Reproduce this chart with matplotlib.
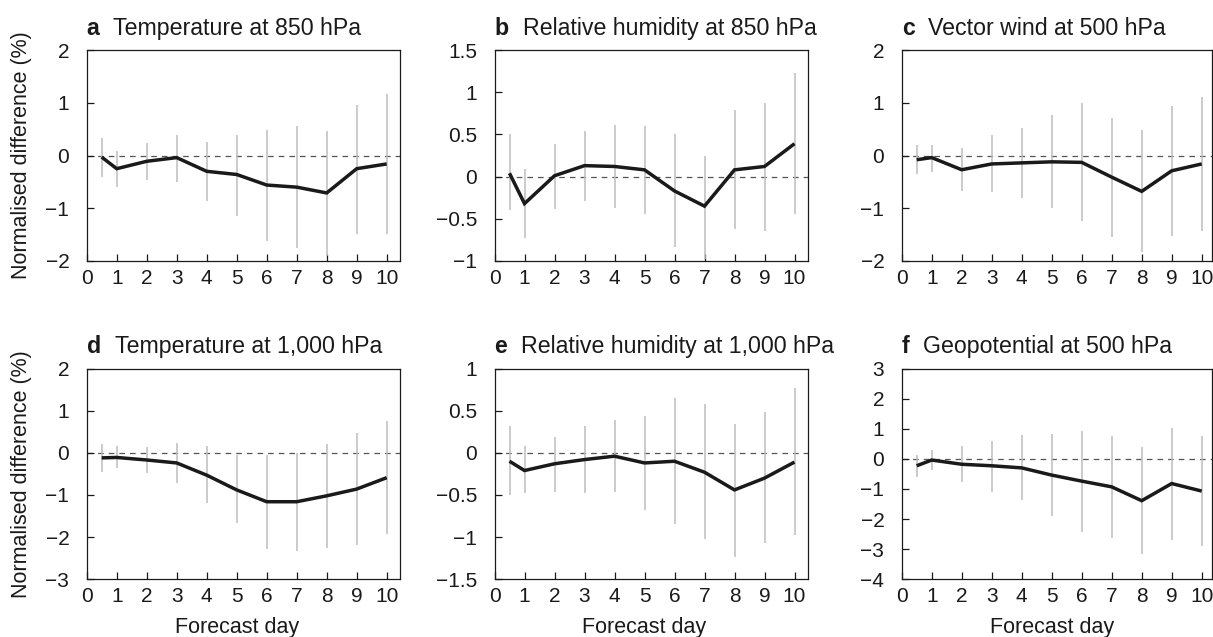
import matplotlib
matplotlib.use('Agg')
import matplotlib.pyplot as plt

plt.rcParams['font.family'] = ['Liberation Sans', 'DejaVu Sans']

# ---------------- data ----------------
days = [0.5, 1, 2, 3, 4, 5, 6, 7, 8, 9, 10]
xticks = [0, 1, 2, 3, 4, 5, 6, 7, 8, 9, 10]

# a: Temperature at 850 hPa
t850 = [-0.03, -0.25, -0.11, -0.04, -0.30, -0.36, -0.56, -0.60, -0.71, -0.25, -0.16]
t850_hi = [0.33, 0.08, 0.24, 0.39, 0.25, 0.39, 0.48, 0.55, 0.46, 0.95, 1.17]
t850_lo = [-0.40, -0.59, -0.46, -0.50, -0.87, -1.14, -1.62, -1.76, -1.90, -1.49, -1.49]

# b: Relative humidity at 850 hPa
rh850 = [0.04, -0.32, 0.01, 0.13, 0.12, 0.08, -0.17, -0.35, 0.08, 0.12, 0.39]
rh850_hi = [0.50, 0.09, 0.39, 0.54, 0.61, 0.60, 0.50, 0.25, 0.79, 0.87, 1.23]
rh850_lo = [-0.40, -0.73, -0.38, -0.29, -0.37, -0.44, -0.84, -0.98, -0.62, -0.64, -0.44]

# c: Vector wind at 500 hPa
vw500 = [-0.08, -0.04, -0.27, -0.16, -0.14, -0.12, -0.13, -0.41, -0.68, -0.29, -0.16]
vw500_hi = [0.19, 0.20, 0.15, 0.38, 0.52, 0.76, 0.99, 0.71, 0.48, 0.93, 1.10]
vw500_lo = [-0.36, -0.32, -0.67, -0.70, -0.81, -1.00, -1.25, -1.54, -1.82, -1.52, -1.43]

# d: Temperature at 1,000 hPa
t1000 = [-0.12, -0.11, -0.17, -0.24, -0.53, -0.88, -1.16, -1.16, -1.02, -0.86, -0.59]
t1000_hi = [0.21, 0.15, 0.14, 0.24, 0.16, -0.05, -0.05, -0.01, 0.21, 0.46, 0.75]
t1000_lo = [-0.45, -0.37, -0.49, -0.71, -1.18, -1.67, -2.27, -2.34, -2.25, -2.19, -1.93]

# e: Relative humidity at 1,000 hPa
rh1000 = [-0.10, -0.21, -0.13, -0.08, -0.04, -0.12, -0.10, -0.23, -0.44, -0.30, -0.11]
rh1000_hi = [0.32, 0.08, 0.19, 0.32, 0.39, 0.44, 0.65, 0.58, 0.34, 0.48, 0.77]
rh1000_lo = [-0.50, -0.48, -0.46, -0.48, -0.47, -0.68, -0.84, -1.02, -1.23, -1.07, -0.98]

# f: Geopotential at 500 hPa
z500 = [-0.23, -0.04, -0.18, -0.23, -0.30, -0.54, -0.74, -0.93, -1.39, -0.82, -1.07]
z500_hi = [0.12, 0.29, 0.43, 0.60, 0.78, 0.81, 0.93, 0.75, 0.40, 1.04, 0.76]
z500_lo = [-0.60, -0.38, -0.78, -1.09, -1.37, -1.89, -2.42, -2.62, -3.17, -2.70, -2.90]

letters = ['a', 'b', 'c', 'd', 'e', 'f']
titles = ['Temperature at 850 hPa', 'Relative humidity at 850 hPa',
          'Vector wind at 500 hPa', 'Temperature at 1,000 hPa',
          'Relative humidity at 1,000 hPa', 'Geopotential at 500 hPa']

yticks_a = [-2, -1, 0, 1, 2]
ylabels_a = ['\u22122', '\u22121', '0', '1', '2']
yticks_b = [-1, -0.5, 0, 0.5, 1, 1.5]
ylabels_b = ['\u22121', '\u22120.5', '0', '0.5', '1', '1.5']
yticks_c = [-2, -1, 0, 1, 2]
ylabels_c = ['\u22122', '\u22121', '0', '1', '2']
yticks_d = [-3, -2, -1, 0, 1, 2]
ylabels_d = ['\u22123', '\u22122', '\u22121', '0', '1', '2']
yticks_e = [-1.5, -1, -0.5, 0, 0.5, 1]
ylabels_e = ['\u22121.5', '\u22121', '\u22120.5', '0', '0.5', '1']
yticks_f = [-4, -3, -2, -1, 0, 1, 2, 3]
ylabels_f = ['\u22124', '\u22123', '\u22122', '\u22121', '0', '1', '2', '3']

series = [t850, rh850, vw500, t1000, rh1000, z500]
highs = [t850_hi, rh850_hi, vw500_hi, t1000_hi, rh1000_hi, z500_hi]
lows = [t850_lo, rh850_lo, vw500_lo, t1000_lo, rh1000_lo, z500_lo]
ytick_sets = [yticks_a, yticks_b, yticks_c, yticks_d, yticks_e, yticks_f]
ylabel_sets = [ylabels_a, ylabels_b, ylabels_c, ylabels_d, ylabels_e, ylabels_f]

# ---------------- layout ----------------
W, H = 1213, 637
fig = plt.figure(figsize=(W / 100, H / 100), dpi=100)

# pixel boxes (left, top, right, bottom)
boxes = [(86.7, 50, 400.2, 261), (494.5, 50, 808.0, 261), (901.7, 50, 1212.2, 261),
         (86.7, 368.5, 400.2, 579.3), (494.5, 368.5, 808.0, 579.3), (901.7, 368.5, 1212.2, 579.3)]

TICK_FS = 15
TITLE_FS = 16.7
LABEL_FS = 15.5
INK = '#1a1a1a'

axes = []
for i in range(6):
    l, t, r, b = boxes[i]
    ax = fig.add_axes([l / W, 1 - b / H, (r - l) / W, (b - t) / H])
    axes.append(ax)

    ax.axhline(0, color='#555555', lw=0.9, ls=(0, (4.5, 4.0)), zorder=1)
    ax.vlines(days, lows[i], highs[i], colors='#bdbdbd', linewidth=1.1, zorder=2)
    ax.plot(days, series[i], color=INK, lw=2.5, zorder=3,
            solid_joinstyle='miter', solid_capstyle='butt')

    ax.set_xlim(0, (r - l) / 30.0)
    yt = ytick_sets[i]
    ax.set_ylim(yt[0], yt[-1])
    ax.set_xticks(xticks)
    ax.set_xticklabels([str(v) for v in xticks])
    ax.set_yticks(yt)
    ax.set_yticklabels(ylabel_sets[i])

    for s in ax.spines.values():
        s.set_linewidth(0.9)
        s.set_color(INK)
    ax.tick_params(direction='in', length=5, width=0.9, colors=INK,
                   labelsize=TICK_FS, top=False, right=False)
    ax.tick_params(axis='x', pad=5.5)
    ax.tick_params(axis='y', pad=12.5)

    lt = ax.annotate(letters[i], xy=(0, 1), xycoords='axes fraction',
                     xytext=(0, 11), textcoords='offset points',
                     fontsize=TITLE_FS, fontweight='bold', color=INK,
                     ha='left', va='baseline')
    ax.annotate(titles[i], xy=(1, 0), xycoords=lt, xytext=(10, 0),
                textcoords='offset points', fontsize=TITLE_FS, color=INK,
                ha='left', va='bottom')

# y labels
for i in (0, 3):
    l, t, r, b = boxes[i]
    fig.text(22 / W, 1 - ((t + b) / 2) / H, 'Normalised difference (%)',
             rotation=90, ha='center', va='center', fontsize=LABEL_FS, color=INK)

# x labels
for i in (3, 4, 5):
    l, t, r, b = boxes[i]
    cx = l + 5 * 30.0
    fig.text(cx / W, 1 - 633 / H, 'Forecast day', ha='center', va='baseline',
             fontsize=LABEL_FS, color=INK)

fig.savefig('out.png', dpi=100)
